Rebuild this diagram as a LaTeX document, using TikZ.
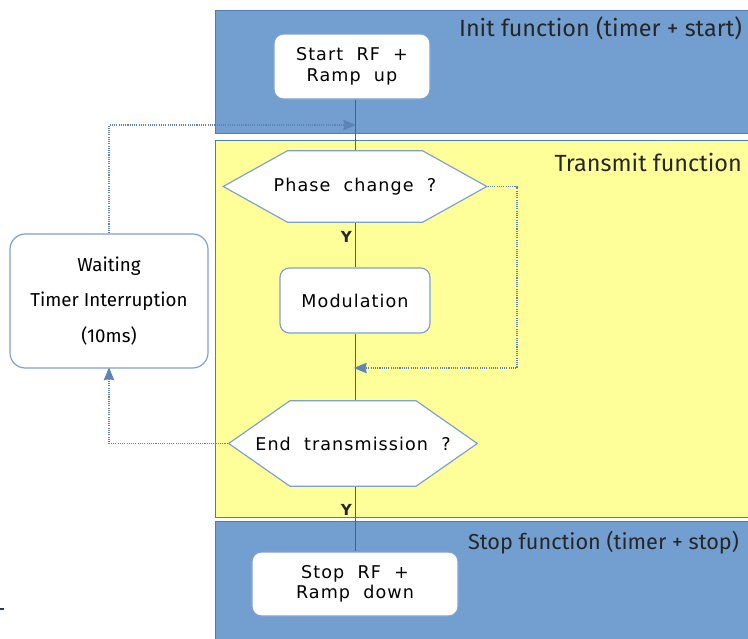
\documentclass[tikz,border=0pt]{standalone}
\usepackage{fontspec}
\setmainfont{Fira Sans}
\newfontfamily\boxfont[LetterSpace=6,WordSpace=2]{DejaVu Sans}
\usetikzlibrary{arrows.meta,positioning,calc}

\definecolor{panelblue}{HTML}{729FCF}
\definecolor{paneledge}{HTML}{4F7DB8}
\definecolor{paleyellow}{HTML}{FFFF99}
\definecolor{wireblue}{HTML}{3465A4}
\definecolor{boxedge}{HTML}{7DA0D2}

\begin{document}
\begin{tikzpicture}[
    x=0.03cm, y=-0.03cm,
    panel/.style={draw=paneledge, line width=0.8pt},
    proc/.style={draw=boxedge, fill=white, line width=1pt, rounded corners=8pt, align=center,
      inner sep=0pt, font=\boxfont\fontsize{15}{17.5}\selectfont},
    test/.style={inner sep=0pt, font=\boxfont\fontsize{15}{17.5}\selectfont,
      path picture={\draw[draw=boxedge, fill=white, line width=1pt]
        ([xshift=0.6pt]path picture bounding box.west)
        -- ([xshift=#1, yshift=-0.6pt]path picture bounding box.north west)
        -- ([xshift=-#1, yshift=-0.6pt]path picture bounding box.north east)
        -- ([xshift=-0.6pt]path picture bounding box.east)
        -- ([xshift=-#1, yshift=0.6pt]path picture bounding box.south east)
        -- ([xshift=#1, yshift=0.6pt]path picture bounding box.south west) -- cycle;}},
    wire/.style={wireblue, line width=0.8pt},
    back/.style={wireblue!80, densely dotted, line width=0.9pt, -{Stealth[length=11pt,width=9pt,inset=1pt,sep=-1pt]}},
    title/.style={anchor=east, font=\fontsize{20}{24}\selectfont, text=black!85},
    yes/.style={font=\boxfont\bfseries\fontsize{13}{15}\selectfont, text=black!85}
  ]
  \useasboundingbox (0,0) rectangle (748,639);

  % swim lanes
  \draw[panel, fill=panelblue] (215,10) rectangle (752,133);
  \draw[panel, fill=paleyellow] (215,140) rectangle (752,517);
  \draw[panel, fill=panelblue] (215,521) rectangle (752,643);
  \node[title] (initT) at (746,28) {Init function (timer + start)};
  \node[title] (txT) at (746,162) {Transmit function};
  \node[title, font=\fontsize{18.5}{22}\selectfont] (stopT) at (743,543) {Stop function (timer + stop)};

  \node[proc, minimum width=4.68cm, minimum height=1.95cm] (start) at (352,66.5) {Start RF +\\Ramp up};
  \node[test=1.95cm, minimum width=7.95cm, minimum height=2.19cm] (phase) at (355,186.5) {Phase change ?};
  \node[proc, minimum width=4.5cm, minimum height=1.95cm] (mod) at (355,300.5) {Modulation};
  \node[test=1.86cm, minimum width=7.5cm, minimum height=2.61cm] (endtx) at (353,443.5) {End transmission ?};
  \node[proc, minimum width=6.18cm, minimum height=1.92cm] (stop) at (355,584) {Stop RF +\\Ramp down};
  \node[proc, rounded corners=13pt, minimum width=5.94cm, minimum height=4.02cm,
    font=\fontsize{16}{30.6}\selectfont] (wait) at (109,301) {Waiting\\Timer Interruption\\(10ms)};

  \coordinate (entry) at (355,125);
  \coordinate (join) at (355,368);

  \draw[wire] (start.south -| entry) -- (phase.north -| entry);
  \draw[wire] (phase.south -| entry) -- node[yes, pos=0.3, left=-1pt] {Y} (mod.north -| entry);
  \draw[wire] (mod.south -| entry) -- (endtx.north -| entry);
  \draw[wire] (endtx.south -| entry) -- node[yes, pos=0.35, left=-1pt] {Y} (stop.north -| entry);

  \draw[back] (phase.east) -| (517,368) -- (join);
  \draw[back] (endtx.west) -| (wait.south);
  \draw[back] (wait.north) |- (entry);

  \draw[wireblue!60!black, line width=1pt] (0,609) -- (4,609);
\end{tikzpicture}
\end{document}
